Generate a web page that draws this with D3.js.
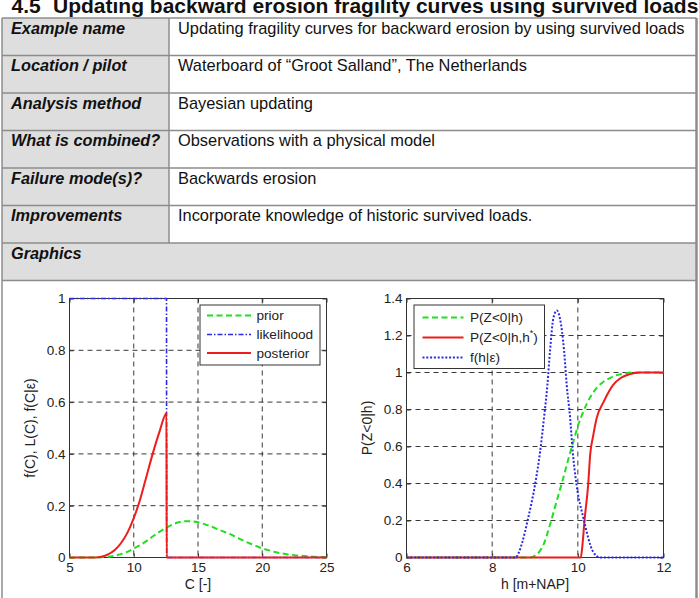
<!DOCTYPE html>
<html><head><meta charset="utf-8">
<script src="https://cdn.jsdelivr.net/npm/d3@7"></script>
<style>body{margin:0;background:#fff}svg{display:block}text{font-family:"Liberation Sans",Arial,sans-serif}</style>
</head><body>
<script>
// ---------- data ----------
const titleNumber = "4.5";
const titleText = "Updating backward erosion fragility curves using survived loads";
const rowLabels = ["Example name","Location / pilot","Analysis method","What is combined?","Failure mode(s)?","Improvements"];
const rowValues = ["Updating fragility curves for backward erosion by using survived loads",
  "Waterboard of \u201cGroot Salland\u201d, The Netherlands","Bayesian updating",
  "Observations with a physical model","Backwards erosion","Incorporate knowledge of historic survived loads."];
const graphicsLabel = "Graphics";

// left chart
const cTicks = [5,10,15,20,25];
const fTicks = [0,0.2,0.4,0.6,0.8,1];
const priorC = [5,6,7,7.5,8,8.5,9,9.5,10,10.5,11,11.5,12,12.5,13,13.5,14,14.5,15,15.5,16,16.5,17,17.5,18,18.5,19,19.5,20,20.5,21,21.5,22,22.5,23,23.5,24,24.5,25];
const priorF = [0,0,0,0.001,0.003,0.007,0.013,0.022,0.035,0.048,0.064,0.082,0.099,0.114,0.127,0.136,0.14,0.14,0.136,0.129,0.12,0.11,0.1,0.09,0.078,0.066,0.055,0.045,0.035,0.028,0.021,0.016,0.012,0.009,0.007,0.005,0.003,0.002,0.001];
const likeC = [5,12.55,12.56,25];
const likeL = [1,1,0,0];
const postC = [5,6,7,7.5,8,8.5,9,9.5,10,10.5,11,11.5,12,12.55,12.56,18,25];
const postF = [0,0,0,0.003,0.012,0.028,0.055,0.095,0.152,0.225,0.315,0.405,0.485,0.557,0,0,0];
const leftLegend = ["prior","likelihood","posterior"];

// right chart
const hTicks = [6,8,10,12];
const pTicks = [0,0.2,0.4,0.6,0.8,1,1.2,1.4];
const gH = [6,8.9,9.0,9.2,9.35,9.5,9.66,9.8,9.9,10.0,10.13,10.3,10.44,10.6,10.75,10.9,11.1,11.3,11.5,12];
const gP = [0,0,0.01,0.07,0.177,0.3,0.43,0.55,0.63,0.71,0.79,0.87,0.917,0.95,0.97,0.985,0.995,1,1,1];
const rH = [6,10.07,10.1,10.16,10.24,10.29,10.36,10.44,10.6,10.83,11.0,11.2,11.45,12];
const rP = [0,0,0.05,0.21,0.39,0.56,0.66,0.754,0.84,0.934,0.97,0.99,1,1];
const bH = [6,8.55,8.61,8.7,8.84,9.0,9.12,9.21,9.29,9.35,9.43,9.51,9.58,9.68,9.74,9.82,9.88,9.97,10.13,10.36,10.52,12];
const bF = [0,0,0.02,0.08,0.213,0.393,0.574,0.754,0.934,1.115,1.295,1.335,1.295,1.115,0.934,0.754,0.574,0.393,0.213,0.03,0,0];

// ---------- drawing ----------
const W = 699, H = 598;
const svg = d3.select("body").append("svg").attr("width", W).attr("height", H);
svg.append("rect").attr("width", W).attr("height", H).attr("fill", "#fff");

// title
svg.append("text").attr("x", 11.5).attr("y", 12.5).attr("font-size", 21).attr("font-weight", "bold").attr("fill", "#111").text(titleNumber);
svg.append("text").attr("x", 53).attr("y", 12.5).attr("font-size", 21).attr("font-weight", "bold").attr("fill", "#111").text(titleText);

// table
const tTop = 18, rowH = 37.5, tL = 2, tR = 696.5, colX = 169;
const border = "#8c8c8c", fillG = "#dedede";
const tbl = svg.append("g");
rowLabels.forEach((lab, i) => {
  const y = tTop + i * rowH;
  tbl.append("rect").attr("x", tL).attr("y", y).attr("width", colX - tL).attr("height", rowH).attr("fill", fillG);
  tbl.append("text").attr("x", 11).attr("y", y + 15.7).attr("font-size", 16.3).attr("font-weight", "bold").attr("font-style", "italic").attr("fill", "#111").text(lab);
  tbl.append("text").attr("x", 178).attr("y", y + 15.7).attr("font-size", 16.4).attr("fill", "#111").text(rowValues[i]);
});
const gy = tTop + 6 * rowH;
tbl.append("rect").attr("x", tL).attr("y", gy).attr("width", tR - tL).attr("height", rowH).attr("fill", fillG);
tbl.append("text").attr("x", 11).attr("y", gy + 15.7).attr("font-size", 16.3).attr("font-weight", "bold").attr("font-style", "italic").attr("fill", "#111").text(graphicsLabel);
for (let i = 0; i <= 7; i++) {
  const y = tTop + i * rowH;
  tbl.append("line").attr("x1", tL).attr("x2", tR).attr("y1", y).attr("y2", y).attr("stroke", border).attr("stroke-width", 1.5);
}
tbl.append("line").attr("x1", colX).attr("x2", colX).attr("y1", tTop).attr("y2", gy).attr("stroke", border).attr("stroke-width", 1.5);
tbl.append("line").attr("x1", tL).attr("x2", tL).attr("y1", tTop).attr("y2", H).attr("stroke", border).attr("stroke-width", 1.5);
tbl.append("line").attr("x1", tR).attr("x2", tR).attr("y1", tTop).attr("y2", H).attr("stroke", border).attr("stroke-width", 2.5);

const fmt = d => String(+d.toFixed(1));

function chart(opt) {
  const g = svg.append("g");
  const x = d3.scaleLinear().domain(opt.xd).range([opt.L, opt.R]);
  const y = d3.scaleLinear().domain(opt.yd).range([opt.B, opt.T]);
  // grid
  opt.xt.filter(v => v > opt.xd[0] && v < opt.xd[1]).forEach(v => {
    g.append("line").attr("x1", x(v)).attr("x2", x(v)).attr("y1", opt.T).attr("y2", opt.B)
      .attr("stroke", "#222").attr("stroke-width", 0.9).attr("stroke-dasharray", "5,4");
  });
  opt.yt.filter(v => v > opt.yd[0] && v < opt.yd[1]).forEach(v => {
    g.append("line").attr("x1", opt.L).attr("x2", opt.R).attr("y1", y(v)).attr("y2", y(v))
      .attr("stroke", "#222").attr("stroke-width", 0.9).attr("stroke-dasharray", "5,4");
  });
  // axes
  const style = a => {
    a.select(".domain").remove();
    a.selectAll(".tick line").attr("stroke", "#333");
    a.selectAll("text").attr("font-size", 13.5).attr("fill", "#222").attr("font-family", "Liberation Sans, Arial, sans-serif");
  };
  g.append("g").attr("transform", `translate(0,${opt.B})`).call(d3.axisBottom(x).tickValues(opt.xt).tickFormat(fmt).tickSize(-4).tickPadding(5)).call(style);
  g.append("g").attr("transform", `translate(${opt.L},0)`).call(d3.axisLeft(y).tickValues(opt.yt).tickFormat(fmt).tickSize(-4).tickPadding(4)).call(style);
  g.append("g").attr("transform", `translate(0,${opt.T})`).call(d3.axisTop(x).tickValues(opt.xt).tickFormat("").tickSize(-4)).call(style);
  g.append("g").attr("transform", `translate(${opt.R},0)`).call(d3.axisRight(y).tickValues(opt.yt).tickFormat("").tickSize(-4)).call(style);
  g.append("rect").attr("x", opt.L).attr("y", opt.T).attr("width", opt.R - opt.L).attr("height", opt.B - opt.T)
    .attr("fill", "none").attr("stroke", "#333").attr("stroke-width", 1);
  // series
  opt.series.forEach(s => {
    const pts = s.xs.map((v, i) => [v, s.ys[i]]);
    const line = d3.line().x(d => x(d[0])).y(d => y(d[1])).curve(s.curve || d3.curveMonotoneX);
    g.append("path").attr("d", line(pts)).attr("fill", "none").attr("stroke", s.color)
      .attr("stroke-width", s.w).attr("stroke-dasharray", s.dash || null).attr("stroke-linejoin", "round");
  });
  // labels
  g.append("text").attr("x", (opt.L + opt.R) / 2).attr("y", 589).attr("text-anchor", "middle").attr("font-size", 14).attr("fill", "#222").text(opt.xlabel);
  g.append("text").attr("transform", `translate(${opt.ylx},${(opt.T + opt.B) / 2}) rotate(-90)`).attr("text-anchor", "middle").attr("font-size", 14).attr("fill", "#222").text(opt.ylabel);
  // legend
  const lg = opt.legend;
  g.append("rect").attr("x", lg.x0).attr("y", lg.y0).attr("width", lg.x1 - lg.x0).attr("height", lg.y1 - lg.y0)
    .attr("fill", "#fff").attr("stroke", "#333").attr("stroke-width", 1);
  opt.series.forEach((s, i) => {
    const yy = lg.rows[i];
    g.append("line").attr("x1", lg.lx0).attr("x2", lg.lx1).attr("y1", yy).attr("y2", yy)
      .attr("stroke", s.color).attr("stroke-width", s.w).attr("stroke-dasharray", s.dash || null);
    const t = g.append("text").attr("x", lg.tx).attr("y", yy + 4.8).attr("font-size", 13.6).attr("fill", "#222");
    if (s.sup) {
      t.append("tspan").text(s.label);
      t.append("tspan").attr("font-size", 9).attr("dy", -6).text(s.sup);
      t.append("tspan").attr("dy", 6).text(s.after);
    } else t.text(s.label);
  });
}

const green = "#1ee01e", red = "#ee1c1c", blue = "#2a2ae6";
chart({
  L: 69.5, R: 326.5, T: 298.5, B: 557.5, xd: [5, 25], yd: [0, 1], xt: cTicks, yt: fTicks,
  xlabel: "C [-]", ylabel: "f(C), L(C), f(C|\u03b5)", ylx: 35,
  legend: {x0: 200, x1: 320, y0: 305, y1: 365, lx0: 207, lx1: 251, tx: 256.5, rows: [315.5, 334.5, 353]},
  series: [
    {xs: priorC, ys: priorF, color: green, w: 2, dash: "6,3.5", label: leftLegend[0]},
    {xs: likeC, ys: likeL, color: blue, w: 1.6, dash: "5,2,1.5,2", curve: d3.curveLinear, label: leftLegend[1]},
    {xs: postC, ys: postF, color: red, w: 2, label: leftLegend[2]}
  ]
});
chart({
  L: 406.5, R: 663.5, T: 298.5, B: 557.5, xd: [6, 12], yd: [0, 1.4], xt: hTicks, yt: pTicks,
  xlabel: "h [m+NAP]", ylabel: "P(Z<0|h)", ylx: 371.5,
  legend: {x0: 414, x1: 544.5, y0: 305, y1: 368.5, lx0: 422.5, lx1: 463.5, tx: 470, rows: [317.5, 337.5, 357.5]},
  series: [
    {xs: gH, ys: gP, color: green, w: 2, dash: "6,3.5", label: "P(Z<0|h)"},
    {xs: rH, ys: rP, color: red, w: 2, label: "P(Z<0|h,h", sup: "*", after: ")"},
    {xs: bH, ys: bF, color: blue, w: 2, dash: "2,1.8", label: "f(h|\u03b5)"}
  ]
});
</script>
</body></html>
